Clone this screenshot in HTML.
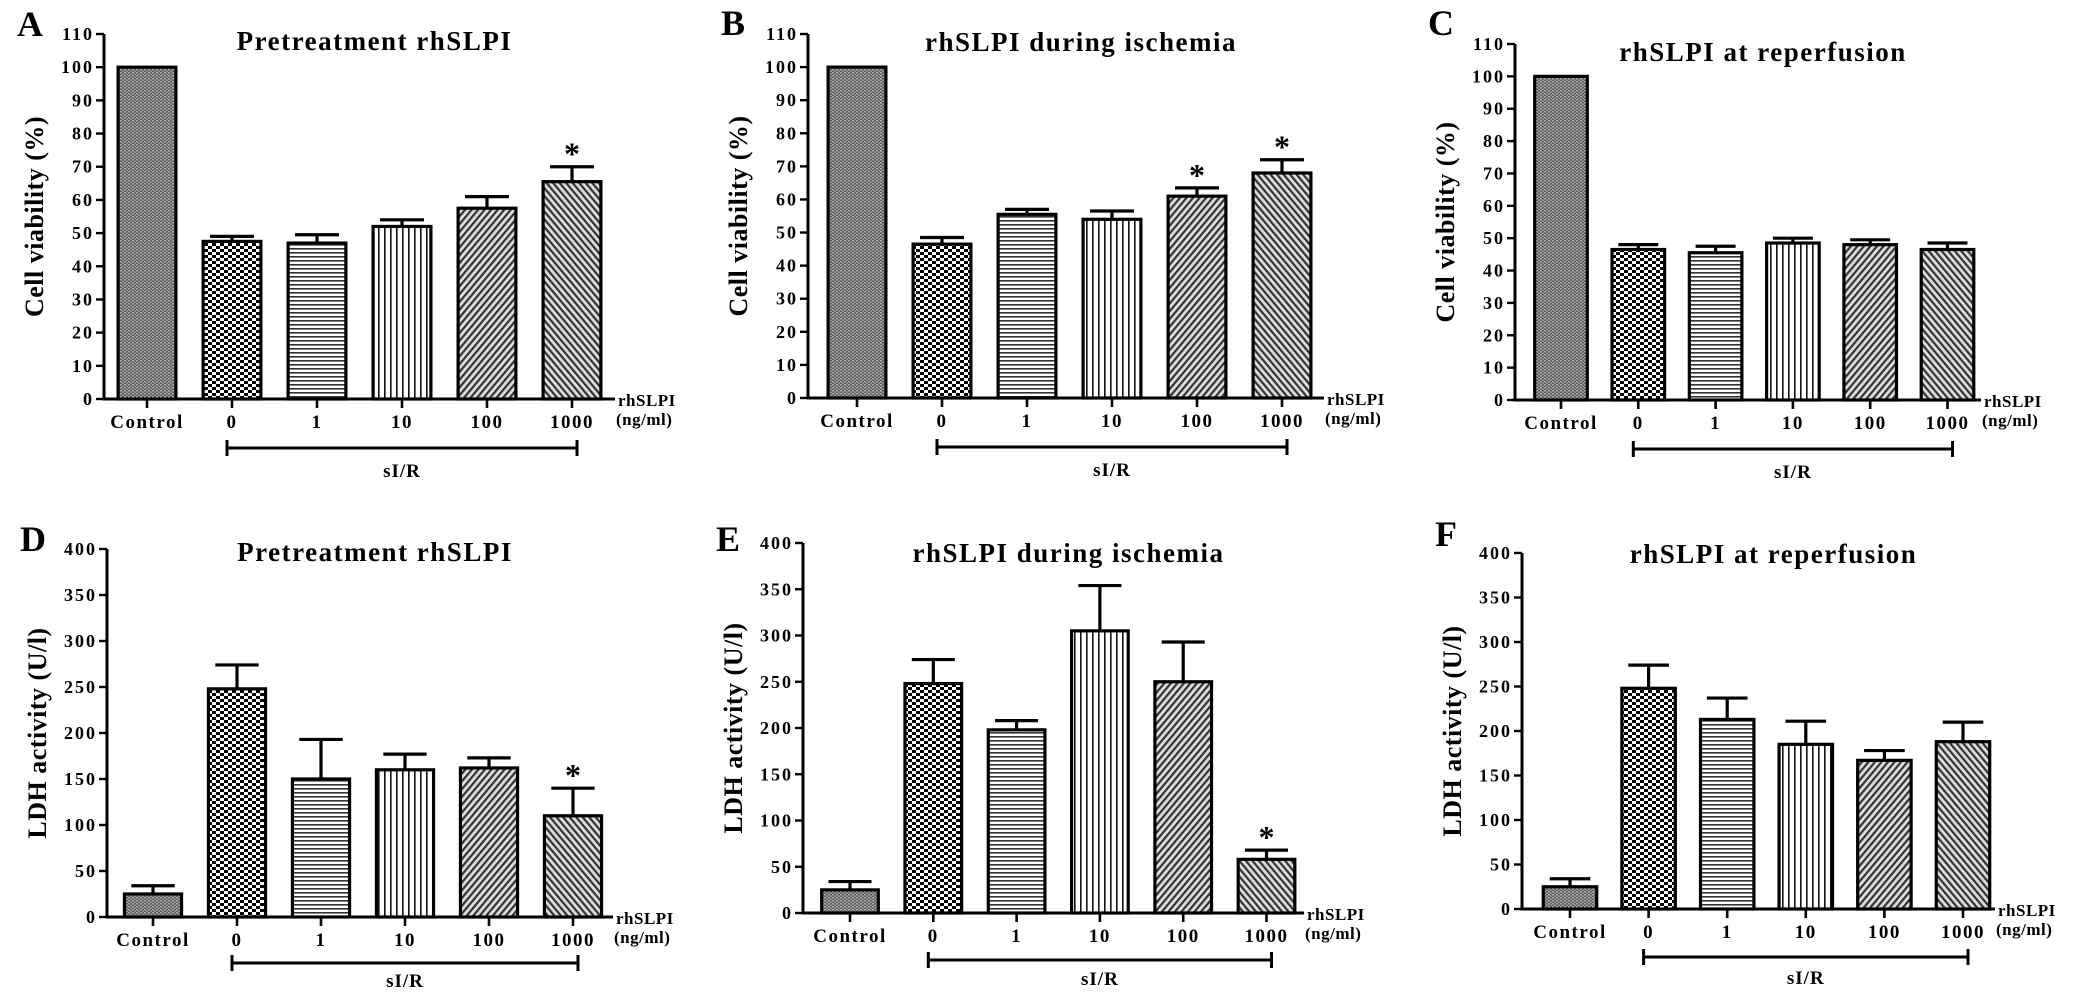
<!DOCTYPE html>
<html><head><meta charset="utf-8">
<style>
html,body{margin:0;padding:0;background:#fff;overflow:hidden;}
svg{display:block;font-family:"Liberation Serif",serif;font-weight:bold;}
</style></head>
<body>
<svg id="fig" width="2082" height="993" viewBox="0 0 2082 993" xmlns="http://www.w3.org/2000/svg">
<defs>
<pattern id="pCtrl" width="4" height="3" patternUnits="userSpaceOnUse"><rect width="4" height="3" fill="#5a5a5a"/><rect x="0" y="0" width="2" height="1.5" fill="#b0b0b0"/><rect x="2" y="1.5" width="2" height="1.5" fill="#999"/></pattern>
<pattern id="pChk" width="8" height="6" patternUnits="userSpaceOnUse"><rect width="8" height="6" fill="#fff"/><rect x="0" y="0" width="4" height="3" fill="#000"/><rect x="4" y="3" width="4" height="3" fill="#000"/></pattern>
<pattern id="pH" width="5" height="4" patternUnits="userSpaceOnUse"><rect width="5" height="4" fill="#fff"/><rect y="0" width="5" height="1.6" fill="#333"/></pattern>
<pattern id="pV" width="6" height="6" patternUnits="userSpaceOnUse"><rect width="6" height="6" fill="#fff"/><rect x="0" width="1.6" height="6" fill="#111"/></pattern>
<pattern id="pD1" width="5" height="5" patternUnits="userSpaceOnUse" patternTransform="rotate(40)"><rect width="5" height="5" fill="#ddd"/><rect width="2.2" height="5" fill="#333"/></pattern>
<pattern id="pD2" width="5" height="5" patternUnits="userSpaceOnUse" patternTransform="rotate(-40)"><rect width="5" height="5" fill="#ddd"/><rect width="2.2" height="5" fill="#333"/></pattern>
</defs>
</svg>
<script>
const categories = ["Control","0","1","10","100","1000"];
const fills = ["url(#pCtrl)","url(#pChk)","url(#pH)","url(#pV)","url(#pD1)","url(#pD2)"];
// Panel A: Pretreatment viability
const valA = [100,47.5,47,52,57.5,65.5];
const errA = [0,49,49.5,54,61,70];
const starA = [0,0,0,0,0,1];
// Panel B: during ischemia viability
const valB = [100,46.5,55.5,54,61,68];
const errB = [0,48.5,57,56.5,63.5,72];
const starB = [0,0,0,0,1,1];
// Panel C: at reperfusion viability
const valC = [100,46.5,45.5,48.5,48,46.5];
const errC = [0,48,47.5,50,49.5,48.5];
const starC = [0,0,0,0,0,0];
// Panel D: Pretreatment LDH
const valD = [25,248,150,160,162,110];
const errD = [34,274,193,177,173,140];
const starD = [0,0,0,0,0,1];
// Panel E: during ischemia LDH
const valE = [25,248,198,305,250,58];
const errE = [34,274,208,354,293,68];
const starE = [0,0,0,0,0,1];
// Panel F: reperfusion LDH
const valF = [25,248,213,185,167,188];
const errF = [34,274,237,211,178,210];
const starF = [0,0,0,0,0,0];
const ticksViab = [0,10,20,30,40,50,60,70,80,90,100,110];
const ticksLDH = [0,50,100,150,200,250,300,350,400];

const panels = [
 {L:"A",title:"Pretreatment rhSLPI",yt:"Cell viability (%)",ax:104,y0:399,yTop:34,ymax:110,c0:147,sp:85,xe:615,v:valA,e:errA,s:starA,t:ticksViab,tdy:16,ly:36,bdy:49,ldy:29},
 {L:"B",title:"rhSLPI during ischemia",yt:"Cell viability (%)",ax:808,y0:398,yTop:34,ymax:110,c0:857,sp:85,xe:1324,v:valB,e:errB,s:starB,t:ticksViab,tdy:17,ly:35,bdy:49,ldy:29},
 {L:"C",title:"rhSLPI at reperfusion",yt:"Cell viability (%)",ax:1515,y0:400,yTop:44,ymax:110,c0:1561,sp:77.3,xe:1981,v:valC,e:errC,s:starC,t:ticksViab,tdy:17,ly:35,bdy:49,ldy:29},
 {L:"D",title:"Pretreatment rhSLPI",yt:"LDH activity (U/l)",ax:107,y0:917,yTop:549,ymax:400,c0:153,sp:84,xe:613,v:valD,e:errD,s:starD,t:ticksLDH,tdy:12,ly:551,bdy:46,ldy:24},
 {L:"E",title:"rhSLPI during ischemia",yt:"LDH activity (U/l)",ax:803,y0:913,yTop:543,ymax:400,c0:850,sp:83.3,xe:1304,v:valE,e:errE,s:starE,t:ticksLDH,tdy:19,ly:551,bdy:47,ldy:25},
 {L:"F",title:"rhSLPI at reperfusion",yt:"LDH activity (U/l)",ax:1522,y0:909,yTop:553,ymax:400,c0:1570,sp:78.6,xe:1995,v:valF,e:errF,s:starF,t:ticksLDH,tdy:10,ly:546,bdy:48,ldy:27}
];
const svg = document.getElementById('fig');
const NS = "http://www.w3.org/2000/svg";
function mk(tag, attrs, parent){const el=document.createElementNS(NS,tag);for(const k in attrs)el.setAttribute(k,attrs[k]);(parent||svg).appendChild(el);return el;}

panels.forEach(p=>{
  const g = mk('g',{});
  
  
  const yS = v => p.y0 - (v/p.ymax)*(p.y0-p.yTop);
  const xS = i => p.c0 + i*p.sp;
  const bw = p.sp*0.68;
  const lt = mk('text',{x:p.ax-87,y:p.ly,'font-size':36},g); lt.textContent=p.L;
   
  const tt = mk('text',{x:(p.ax+p.xe)/2+15,y:p.yTop+p.tdy,'font-size':27,'letter-spacing':1.5,'text-anchor':'middle'},g); tt.textContent=p.title;
   
  const cy=(p.y0+p.yTop)/2;
  const yt = mk('text',{x:0,y:0,'font-size':26,'letter-spacing':0.5,'text-anchor':'middle',transform:`translate(${p.ax-61},${cy}) rotate(-90)`},g); yt.textContent=p.yt;
   
  p.v.forEach((v,i)=>{
    const x=xS(i), top=yS(v), eT=yS(p.e[i]);
    if(p.e[i]>v){
      const eb=mk('path',{d:`M${x} ${top} V${eT} M${x-bw*0.38} ${eT} H${x+bw*0.38}`,stroke:'#000','stroke-width':3.2,fill:'none'},g);
       
    }
    const r=mk('rect',{x:x-bw/2,y:top,width:bw,height:p.y0-top,fill:fills[i],stroke:'#000','stroke-width':3.2},g);
     
    if(p.s[i]){
      const st=mk('text',{x:x,y:eT-2,'font-size':32,'text-anchor':'middle'},g); st.textContent='*';
       
    }
    const tk=mk('line',{x1:x,x2:x,y1:p.y0,y2:p.y0+9,stroke:'#000','stroke-width':2.6},g);
     
    const tl=mk('text',{x:x,y:p.y0+29,'font-size':19,'letter-spacing':1.5,'text-anchor':'middle'},g); tl.textContent=categories[i];
     
  });
  const axl=mk('path',{d:`M${p.ax} ${p.yTop} V${p.y0} H${p.xe}`,stroke:'#000','stroke-width':3,fill:'none'},g);
   
  p.t.forEach(t=>{
    const y=yS(t);
    const tk=mk('line',{x1:p.ax-8,x2:p.ax,y1:y,y2:y,stroke:'#000','stroke-width':2.4},g);
     
    const tl=mk('text',{x:p.ax-10,y:y+6,'font-size':18,'letter-spacing':2,'text-anchor':'end'},g); tl.textContent=t;
     
  });
  const u1=mk('text',{x:p.xe+3,y:p.y0+7,'font-size':17,'letter-spacing':0.5},g); u1.textContent='rhSLPI';
   
  const u2=mk('text',{x:p.xe+1,y:p.y0+26,'font-size':17,'letter-spacing':0.5},g); u2.textContent='(ng/ml)';
   
  const bx1=xS(1)-5, bx2=xS(5)+5, by=p.y0+p.bdy;
  const br=mk('path',{d:`M${bx1} ${by-8} V${by+8} M${bx1} ${by} H${bx2} M${bx2} ${by-8} V${by+8}`,stroke:'#000','stroke-width':3,fill:'none'},g);
   
  const bl=mk('text',{x:(bx1+bx2)/2,y:by+p.ldy,'font-size':19,'letter-spacing':1,'text-anchor':'middle'},g); bl.textContent='sI/R';
   
});
</script>
</body></html>
